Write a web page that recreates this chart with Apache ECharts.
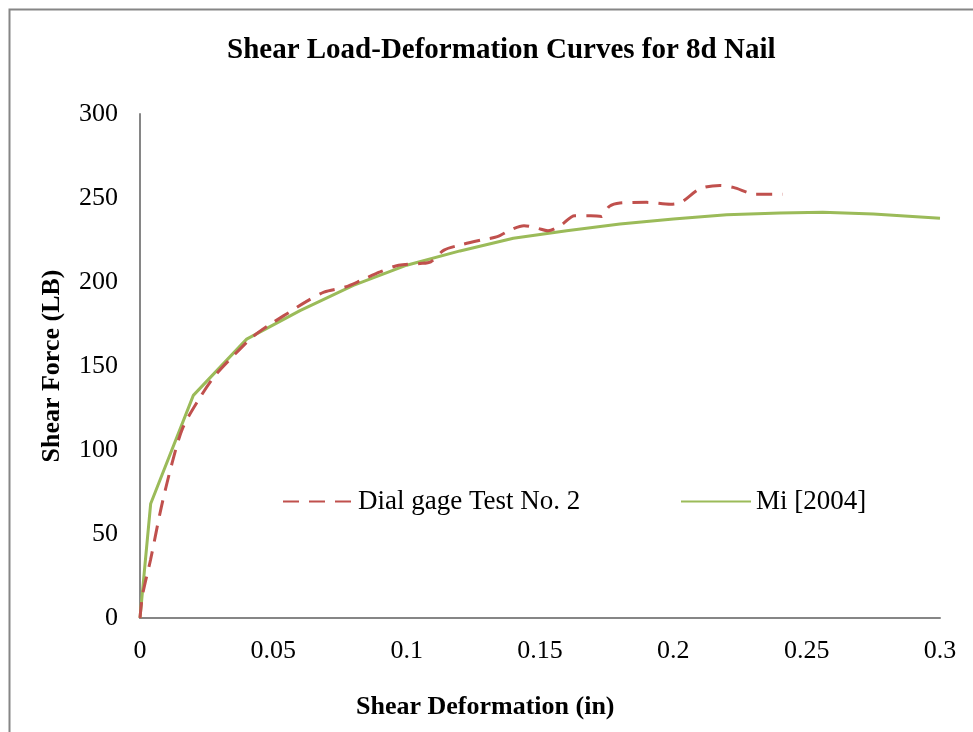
<!DOCTYPE html>
<html>
<head>
<meta charset="utf-8">
<script src="https://cdn.jsdelivr.net/npm/echarts@6/dist/echarts.min.js"></script>
<style>
  html, body { margin: 0; padding: 0; background: #fff; }
  #chart { width: 973px; height: 732px; }
</style>
</head>
<body>
<div id="chart"></div>
<script>
// dial gage test no. 2 - [deformation (in), force (lb)]
const dialGage = [
  [0, 0], [0.001, 14], [0.004, 35], [0.008, 66], [0.012, 92], [0.016, 113],
  [0.022, 130], [0.028, 144], [0.035, 156], [0.042, 167], [0.049, 175],
  [0.056, 182], [0.062, 188], [0.069, 194], [0.077, 197], [0.083, 201],
  [0.09, 206], [0.097, 210], [0.105, 211], [0.109, 212], [0.114, 219],
  [0.12, 222], [0.128, 225], [0.134, 227], [0.139, 231], [0.144, 233.5],
  [0.149, 232], [0.153, 230.5], [0.158, 234], [0.163, 239.5], [0.169, 239.5],
  [0.173, 239], [0.176, 245], [0.18, 247], [0.19, 247.4], [0.199, 246.3],
  [0.203, 247.5], [0.21, 255.5], [0.2175, 257.5], [0.2225, 256.3],
  [0.231, 252.3], [0.241, 252.3]
]
// Mi [2004] model curve
const miCurve = [
  [0, 0], [0.004, 68], [0.02, 132.5], [0.04, 166], [0.06, 183], [0.08, 198],
  [0.1, 210], [0.12, 218.5], [0.14, 226], [0.16, 230.5], [0.18, 234.5],
  [0.2, 237.5], [0.22, 240], [0.24, 241], [0.256, 241.5], [0.275, 240.5],
  [0.3, 238]
]
const seriesNames = ['Dial gage Test No. 2', 'Mi [2004]']

const font = '"Liberation Serif", "Times New Roman", serif'
const axisColor = '#868686'

const legendBase = {
  top: 483,
  itemWidth: 70, itemHeight: 14, itemGap: 6,
  itemStyle: { opacity: 0 },
  textStyle: { fontFamily: font, fontSize: 27, color: '#000', padding: [0, 0, 0, 0] }
}

const chart = echarts.init(document.getElementById('chart'))
chart.setOption({
  backgroundColor: '#fff',
  animation: false,
  textStyle: { fontFamily: font, color: '#000' },
  graphic: [
    {
      type: 'rect',
      shape: { x: 9.5, y: 9.5, width: 1000, height: 1000 },
      style: { fill: 'none', stroke: axisColor, lineWidth: 2 }
    }
  ],
  title: [
    {
      text: 'Shear Load-Deformation Curves for 8d Nail',
      left: 222,
      top: 31,
      textStyle: { fontFamily: font, fontSize: 29, fontWeight: 'bold', color: '#000' }
    },
    {
      // x axis title sits left of the plot centre in the original
      text: 'Shear Deformation (in)',
      left: 351,
      top: 689,
      textStyle: { fontFamily: font, fontSize: 26, fontWeight: 'bold', color: '#000' }
    }
  ],
  legend: [
    Object.assign({ data: [seriesNames[0]], left: 277 }, legendBase),
    Object.assign({ data: [seriesNames[1]], left: 675 }, legendBase)
  ],
  grid: { left: 140, right: 33, top: 114, bottom: 114 },
  xAxis: {
    type: 'value',
    min: 0, max: 0.3, interval: 0.05,
    axisLine: { lineStyle: { color: axisColor, width: 2 } },
    axisTick: { show: false },
    splitLine: { show: false },
    axisLabel: { fontFamily: font, fontSize: 26, color: '#000', margin: 20 }
  },
  yAxis: {
    type: 'value',
    min: 0, max: 300, interval: 50,
    name: 'Shear Force (LB)',
    nameLocation: 'middle',
    nameGap: 75,
    nameTextStyle: { fontFamily: font, fontSize: 26, fontWeight: 'bold', color: '#000' },
    axisLine: { show: true, lineStyle: { color: axisColor, width: 2 } },
    axisTick: { show: false },
    splitLine: { show: false },
    axisLabel: { fontFamily: font, fontSize: 26, color: '#000', margin: 22 }
  },
  series: [
    {
      name: seriesNames[0],
      type: 'line',
      data: dialGage,
      smooth: 0.3,
      showSymbol: false,
      symbol: 'none',
      z: 3,
      lineStyle: { color: '#C0504D', width: 3, type: [16, 10] },
      itemStyle: { color: '#C0504D' }
    },
    {
      name: seriesNames[1],
      type: 'line',
      data: miCurve,
      showSymbol: false,
      symbol: 'none',
      z: 2,
      lineStyle: { color: '#9BBB59', width: 3 },
      itemStyle: { color: '#9BBB59' }
    }
  ]
})
</script>
</body>
</html>
